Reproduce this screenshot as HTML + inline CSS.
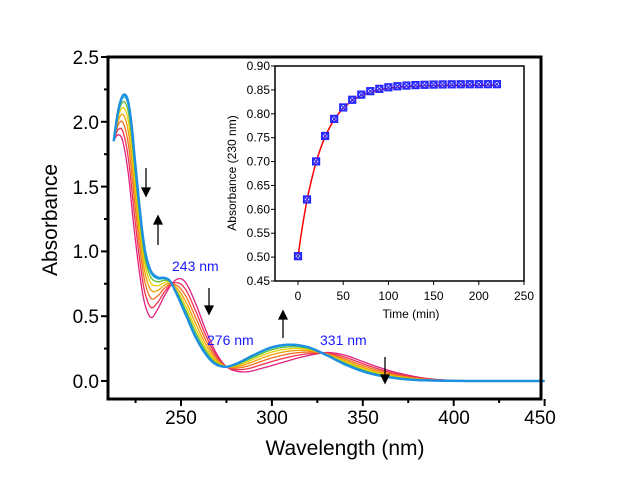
<!DOCTYPE html><html><head><style>body{margin:0;background:#fff}svg{display:block;font-family:"Liberation Sans",Arial,sans-serif}</style></head><body>
<svg id="s" width="630" height="482" xmlns="http://www.w3.org/2000/svg">
<g font-size="19" fill="#000" text-anchor="end">
<text x="99" y="64">2.5</text><text x="99" y="129">2.0</text><text x="99" y="194">1.5</text><text x="99" y="258">1.0</text><text x="99" y="323">0.5</text><text x="99" y="388">0.0</text>
</g>
<g font-size="19" text-anchor="middle">
<text x="181" y="424">250</text><text x="272" y="424">300</text><text x="363" y="424">350</text><text x="454" y="424">400</text><text x="540" y="424">450</text>
</g>
<text x="345" y="455" font-size="21" text-anchor="middle">Wavelength (nm)</text>
<text transform="translate(57,220) rotate(-90)" font-size="21" text-anchor="middle">Absorbance</text>
<g id="curves"></g>
<rect x="108" y="57" width="433" height="342" fill="none" stroke="#000" stroke-width="3"/>
<g id="ticks" stroke="#000" stroke-width="2"></g>
<g fill="#1a1aff" font-size="14"><text x="172" y="271">243 nm</text><text x="207" y="345">276 nm</text><text x="320" y="345">331 nm</text></g>
<g stroke="#000" stroke-width="1.3" fill="#000">
<line x1="146" y1="168" x2="146" y2="192"/><path d="M142,188 L146,196 L150,188Z"/>
<line x1="158" y1="245" x2="158" y2="220"/><path d="M154,224 L158,216 L162,224Z"/>
<line x1="209" y1="288" x2="209" y2="310"/><path d="M205,306 L209,314 L213,306Z"/>
<line x1="283" y1="338" x2="283" y2="315"/><path d="M279,319 L283,311 L287,319Z"/>
<line x1="385" y1="357" x2="385" y2="379"/><path d="M381,375 L385,383 L389,375Z"/>
</g>
<rect x="275" y="66" width="249" height="215" fill="#fff" stroke="#000" stroke-width="1.5"/>
<g font-size="12" text-anchor="end" id="iy"></g>
<g font-size="12" text-anchor="middle" id="ix"></g>
<text x="411" y="318" font-size="12" text-anchor="middle">Time (min)</text>
<text transform="translate(236,173) rotate(-90)" font-size="12" text-anchor="middle">Absorbance (230 nm)</text>
<g id="inset"></g>
</svg>
<script>
var NS="http://www.w3.org/2000/svg";
function X(w){return 181+(w-250)*1.818}function Y(a){return 381-a*129.6}
var fin=[[213,1.85],[215,2.05],[217,2.17],[219,2.21],[221,2.15],[223,1.95],[225,1.65],[227.5,1.3],[230,1.02],[233,0.86],[237,0.8],[241,0.795],[244,0.77],[248,0.66],[253,0.5],[258,0.34],[263,0.22],[268,0.14],[274,0.11],[280,0.13],[290,0.2],[300,0.26],[310,0.28],[320,0.26],[330,0.2],[340,0.13],[350,0.075],[360,0.04],[375,0.012],[395,0.002],[420,0],[450,0]];
var ini=[[213,1.86],[215.5,1.9],[218,1.85],[221,1.6],[224,1.2],[227,0.85],[230,0.6],[233.5,0.49],[237,0.55],[241,0.66],[245.6,0.76],[249.5,0.79],[253,0.75],[258,0.6],[264,0.38],[270,0.2],[276,0.1],[285,0.07],[295,0.1],[305,0.14],[315,0.18],[325,0.21],[331,0.22],[340,0.2],[350,0.15],[360,0.1],[370,0.06],[385,0.02],[400,0.005],[420,0],[450,0]];
function itp(k,w){var n=k.length;for(var i=0;i<n-1;i++){if(w>=k[i][0]&&w<=k[i+1][0]){
var x0=k[i][0],x1=k[i+1][0],y0=k[i][1],y1=k[i+1][1],h=x1-x0,t=(w-x0)/h;
function sl(j){if(j<=0)return (k[1][1]-k[0][1])/(k[1][0]-k[0][0]);if(j>=n-1)return (k[n-1][1]-k[n-2][1])/(k[n-1][0]-k[n-2][0]);return (k[j+1][1]-k[j-1][1])/(k[j+1][0]-k[j-1][0]);}
var m0=sl(i)*h,m1=sl(i+1)*h,t2=t*t,t3=t2*t;
return (2*t3-3*t2+1)*y0+(t3-2*t2+t)*m0+(-2*t3+3*t2)*y1+(t3-t2)*m1;}}return 0;}
var cols=["#e0207f","#f03050","#f07020","#f0a000","#e8d000","#60c030","#20c0c0","#1e90e0"];
var g=document.getElementById("curves");
for(var c=0;c<cols.length;c++){var f=c/(cols.length-1);f=1-Math.pow(1-f,1.6);var d="";
for(var w=213;w<=450;w+=0.5){var a=itp(ini,w)*(1-f)+itp(fin,w)*f;d+=(d?"L":"M")+X(w).toFixed(1)+","+Y(a).toFixed(1);}
var p=document.createElementNS(NS,"path");p.setAttribute("d",d);p.setAttribute("fill","none");p.setAttribute("stroke",cols[c]);p.setAttribute("stroke-width",c==cols.length-1?2.5:1.3);g.appendChild(p);}
var tk=document.getElementById("ticks"),s="";
for(var w=225;w<=450;w+=25){var x=X(w);s+='<line x1="'+x+'" y1="399" x2="'+x+'" y2="'+(w%50==0?406:403)+'"/>';}
for(var a=0;a<=2.5;a+=0.25){var y=Y(a);s+='<line x1="108" y1="'+y+'" x2="'+(a*4%2==0?101:104)+'" y2="'+y+'"/>';}
tk.innerHTML=s;
function IX(t){return 298+t*0.904}function IY(v){return 66+(0.9-v)*477.8}
var iy="",ix="",it="";
for(var v=0.45;v<=0.901;v+=0.05){iy+='<text x="270" y="'+(IY(v)+4)+'">'+v.toFixed(2)+'</text>';it+='<line x1="275" y1="'+IY(v)+'" x2="271" y2="'+IY(v)+'" stroke="#000"/>';}
for(var t=0;t<=250;t+=50){ix+='<text x="'+IX(t)+'" y="300">'+t+'</text>';it+='<line x1="'+IX(t)+'" y1="281" x2="'+IX(t)+'" y2="285" stroke="#000"/>';}
document.getElementById("iy").innerHTML=iy;document.getElementById("ix").innerHTML=ix;
var d="";for(var t=0;t<=220;t+=1){var v=0.86-0.36*Math.exp(-t/25);d+=(d?"L":"M")+IX(t).toFixed(1)+","+IY(v).toFixed(1);}
it+='<path d="'+d+'" fill="none" stroke="#f00" stroke-width="1.5"/>';
for(var t=0;t<=220;t+=10){var v=0.862-0.36*Math.exp(-t/25);var x=IX(t),y=IY(v);
it+='<rect x="'+(x-3.5)+'" y="'+(y-3.5)+'" width="7" height="7" fill="#c8d8ff" fill-opacity="0.5" stroke="#2020ff" stroke-width="1.2"/><circle cx="'+x+'" cy="'+y+'" r="2.8" fill="none" stroke="#2020ff" stroke-width="1"/><path d="M'+(x-3.5)+','+(y-3.5)+'L'+(x+3.5)+','+(y+3.5)+'M'+(x+3.5)+','+(y-3.5)+'L'+(x-3.5)+','+(y+3.5)+'" stroke="#2020ff" stroke-width="1"/>';}
document.getElementById("inset").innerHTML=it;
</script>
</body></html>
